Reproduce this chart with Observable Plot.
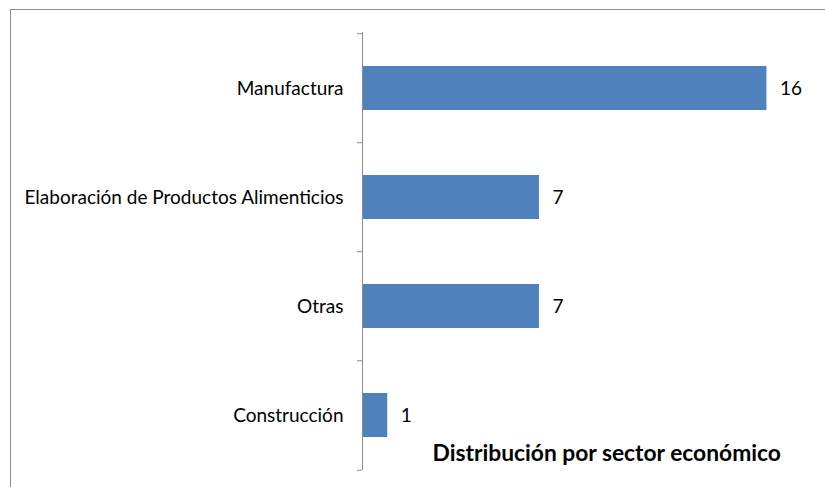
<!DOCTYPE html>
<html>
<head>
<meta charset="utf-8">
<script src="https://cdn.jsdelivr.net/npm/d3@7"></script>
<script src="https://cdn.jsdelivr.net/npm/@observablehq/plot@0.6"></script>
<style>
  html, body { margin: 0; padding: 0; background: #fff; overflow: hidden; }
  #wrap { position: relative; width: 825px; height: 487px; overflow: hidden; }
  #frame { position: absolute; left: 10px; top: 9px; width: 900px; height: 600px; border: 1px solid #8c8c8c; pointer-events: none; }
  #chart { position: absolute; left: 0; top: 0; }
</style>
</head>
<body>
<div id="wrap">
  <div id="chart"></div>
  <div id="frame"></div>
</div>
<script>
const categories = ["Manufactura", "Elaboración de Productos Alimenticios", "Otras", "Construcción"];
const values = [16, 7, 7, 1];
const title = "Distribución por sector económico";

const data = categories.map((c, i) => ({sector: c, value: values[i]}));
const step = (487 - 32 - 17) / categories.length;

const chart = Plot.plot({
  width: 825,
  height: 487,
  marginLeft: 362,
  marginTop: 32,
  marginBottom: 17,
  marginRight: 8,
  x: {domain: [0, 18], axis: null},
  y: {domain: categories, paddingInner: 0.6, paddingOuter: 0.3, axis: null, label: null},
  style: {fontFamily: "Lato, 'Open Sans', sans-serif", fontSize: "19px", color: "#000", background: "transparent"},
  marks: [
    Plot.barX(data, {x: "value", y: "sector", fill: "#4F81BD", insetLeft: 1}),
    Plot.text(data, {x: "value", y: "sector", text: d => String(d.value), textAnchor: "start", dx: 13, fontSize: 19, fill: "#000"}),
    Plot.axisY(categories, {tickSize: 0, tickPadding: 19, fontSize: 19, fill: "#000", label: null}),
    Plot.axisY(categories, {tickSize: 5, tickFormat: () => "", dy: -step / 2, stroke: "#8c8c8c", label: null}),
    Plot.axisY([categories[categories.length - 1]], {tickSize: 5, tickFormat: () => "", dy: step / 2, stroke: "#8c8c8c", label: null}),
    Plot.ruleX([0], {stroke: "#8c8c8c"}),
    Plot.text([title], {frameAnchor: "bottom-left", dx: 70, dy: -17, lineAnchor: "middle", textAnchor: "start", fontWeight: "bold", fontSize: 22.8, fill: "#000"})
  ]
});
document.getElementById("chart").appendChild(chart);
</script>
</body>
</html>
